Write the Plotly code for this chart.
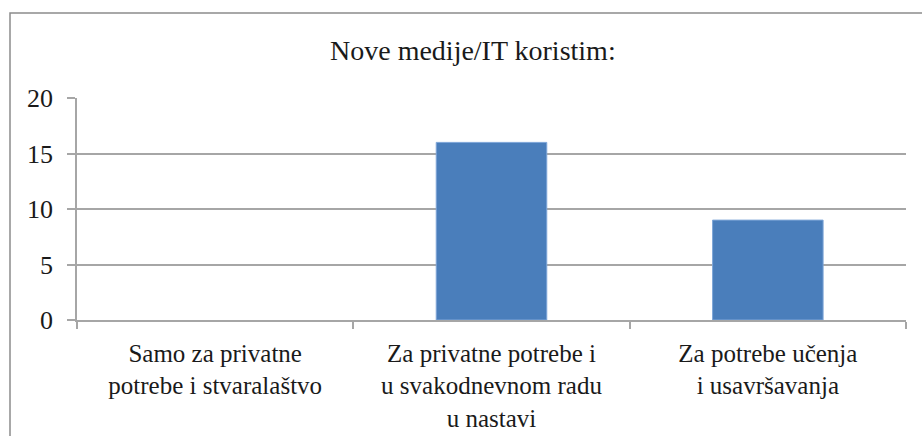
import plotly.graph_objects as go

categories = [
    "Samo za privatne<br>potrebe i stvaralaštvo",
    "Za privatne potrebe i<br>u svakodnevnom radu<br>u nastavi",
    "Za potrebe učenja<br>i usavršavanja",
]
values = [0, 16, 9]
y_ticks = [0, 5, 10, 15, 20]
title_text = "Nove medije/IT koristim:"

W, H = 922, 436
L, R, T, B = 77, 16, 98, 116
pw, ph = W - L - R, H - T - B

FONT = "Liberation Serif"
GRID = "#A6A6A6"
TXT = "#1a1a1a"

fig = go.Figure()
fig.add_trace(go.Bar(
    x=categories, y=values,
    marker=dict(color="#4A7EBB",
                line=dict(color="#7EA6D8", width=[0 if v == 0 else 1 for v in values])),
))

def px_x(p):
    return (p - L) / pw

def px_y(p):
    return (H - B - p) / ph

fig.update_layout(
    width=W, height=H,
    margin=dict(l=L, r=R, t=T, b=B, pad=0, autoexpand=False),
    paper_bgcolor="white", plot_bgcolor="white",
    bargap=0.6,
    showlegend=False,
    font=dict(family=FONT, size=26, color=TXT),
    xaxis=dict(
        type="category", automargin=False,
        showline=True, linecolor=GRID, linewidth=1.5,
        ticks="outside", tickson="boundaries", ticklen=7, tickcolor=GRID, tickwidth=1.5,
        showgrid=False,
        ticklabelstandoff=10,
        tickfont=dict(family=FONT, size=25, color=TXT),
    ),
    yaxis=dict(
        range=[0, 20], tickvals=y_ticks, automargin=False,
        showline=True, linecolor=GRID, linewidth=1.5,
        ticks="outside", ticklen=8, tickcolor=GRID, tickwidth=1.5,
        showgrid=True, gridcolor=GRID, gridwidth=1.5,
        zeroline=False,
        ticklabelstandoff=9,
        tickfont=dict(family=FONT, size=26, color=TXT),
    ),
    shapes=[dict(
        type="rect", xref="paper", yref="paper",
        x0=px_x(10), x1=px_x(940), y0=px_y(450), y1=px_y(13),
        line=dict(color="#8C8C8C", width=1.5), fillcolor="rgba(0,0,0,0)",
        layer="below",
    )],
    annotations=[dict(
        text=title_text, xref="paper", yref="paper",
        x=px_x(472.5), y=px_y(50), xanchor="center", yanchor="middle",
        showarrow=False, font=dict(family=FONT, size=28, color=TXT),
    )],
)

fig.write_html(
    "out.html",
    config={"displayModeBar": False},
    post_script="document.body.style.margin='0';document.body.style.overflow='hidden';",
)
